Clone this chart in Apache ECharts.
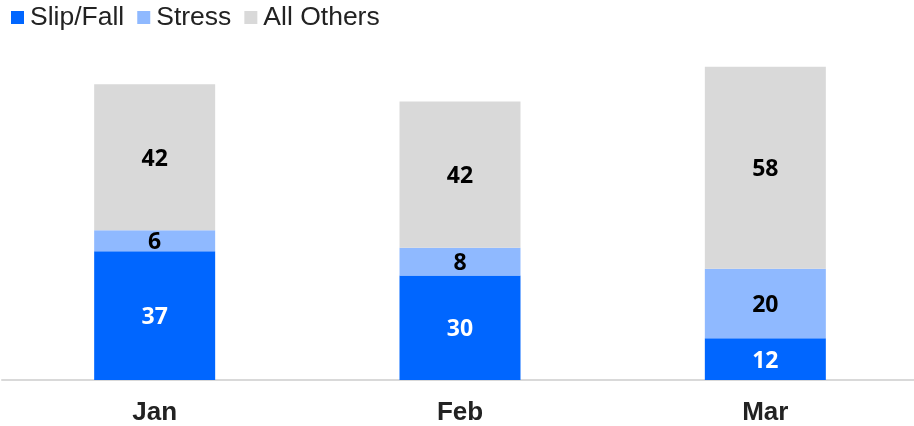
<!DOCTYPE html>
<html>
<head>
<meta charset="utf-8">
<script src="https://cdn.jsdelivr.net/npm/echarts@6/dist/echarts.min.js"></script>
<style>
  html, body { margin: 0; padding: 0; background: #fff; overflow: hidden; }
  #chart { width: 918px; height: 426px; }
</style>
</head>
<body>
<div id="chart"></div>
<script>
const months = ['Jan', 'Feb', 'Mar']
const slipFall = [37, 30, 12]
const stress = [6, 8, 20]
const allOthers = [42, 42, 58]

const colors = ['#0066ff', '#8fb9ff', '#d9d9d9']
const labelColors = ['#ffffff', '#000000', '#000000']

const chart = echarts.init(document.getElementById('chart'))

const mkSeries = (name, data, i) => ({
  name: name,
  type: 'bar',
  stack: 'total',
  data: data,
  barWidth: 121,
  itemStyle: { color: colors[i] },
  label: {
    show: true,
    position: 'inside',
    offset: [0, 2],
    color: labelColors[i],
    fontFamily: 'Open Sans',
    fontWeight: 'bold',
    fontSize: 23
  }
})

chart.setOption({
  animation: false,
  legend: {
    left: 6,
    top: -1,
    itemWidth: 13,
    itemHeight: 13,
    itemGap: 13,
    icon: 'rect',
    textStyle: { fontFamily: 'Liberation Sans', fontSize: 26.5, color: '#222', padding: [0, 0, 0, 1] },
    data: ['Slip/Fall', 'Stress', 'All Others']
  },
  grid: { left: 2, right: 0, top: 32, bottom: 46, containLabel: false },
  xAxis: {
    type: 'category',
    data: months,
    axisLine: { lineStyle: { color: '#d9d9d9', width: 2 } },
    axisTick: { show: false },
    axisLabel: {
      margin: 20,
      fontFamily: 'Liberation Sans',
      fontWeight: 'bold',
      fontSize: 26,
      color: '#222'
    }
  },
  yAxis: {
    type: 'value',
    min: 0,
    max: 100,
    show: false,
    splitLine: { show: false }
  },
  series: [
    mkSeries('Slip/Fall', slipFall, 0),
    mkSeries('Stress', stress, 1),
    mkSeries('All Others', allOthers, 2)
  ]
})
</script>
</body>
</html>
